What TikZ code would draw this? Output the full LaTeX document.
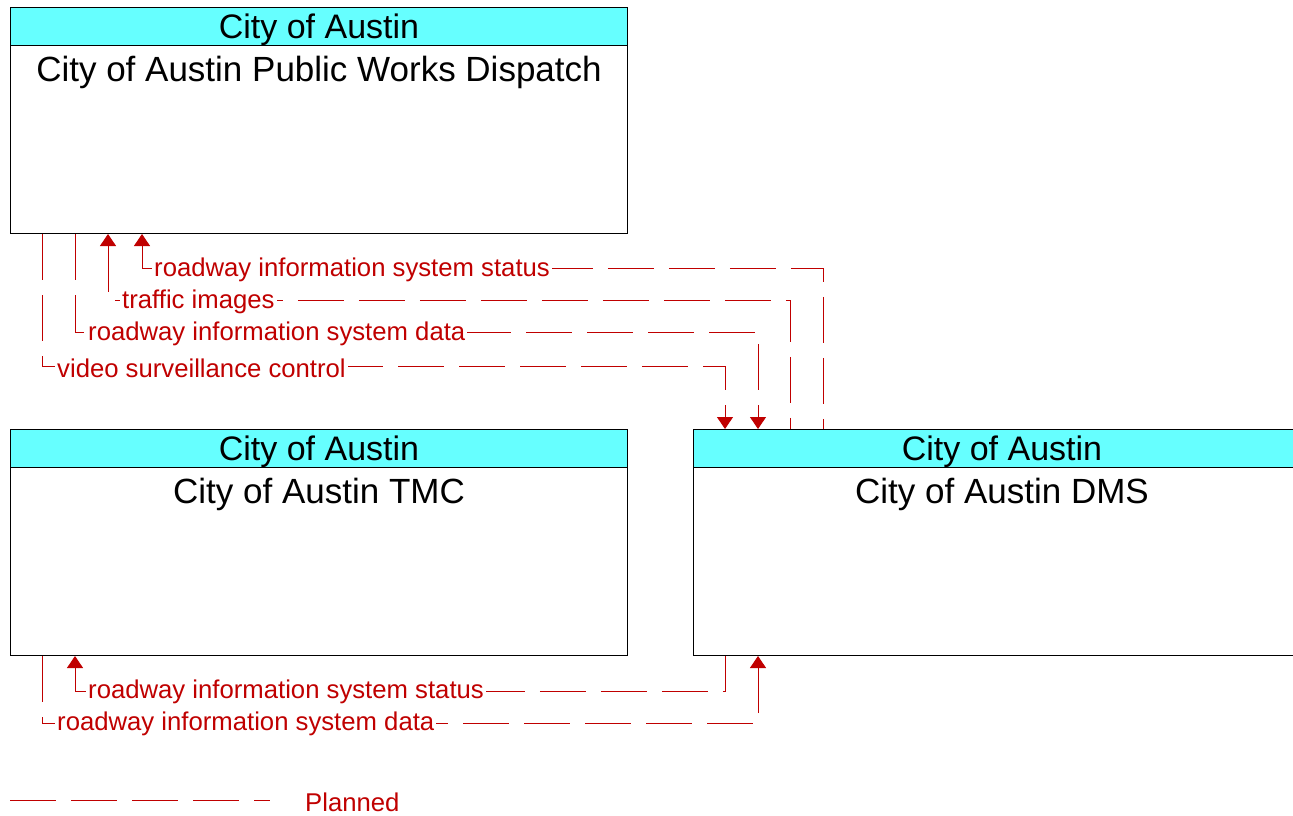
\documentclass[tikz,border=0pt]{standalone}
\usepackage{fontspec}
\setmainfont{Liberation Sans}
\usetikzlibrary{arrows.meta,calc,positioning}
\definecolor{flowred}{RGB}{192,0,0}
\definecolor{hdrcyan}{RGB}{102,255,255}
\tikzset{
    mybox/.style={draw=black,line width=1pt,fill=white,minimum width=617pt,minimum height=226pt,inner sep=0pt,anchor=north west},
    myhead/.style={draw=black,line width=1pt,fill=hdrcyan,minimum width=617pt,minimum height=38pt,inner sep=0pt,text depth=0pt,anchor=north,font=\fontsize{34}{40}\selectfont},
    myname/.style={inner sep=0pt,font=\fontsize{35}{40}\selectfont},
    myflow/.style={draw=flowred,line width=1pt,dash pattern=on 46pt off 15pt},
    mytip/.style={-{Triangle[width=16pt,length=12pt]}},
    mytipin/.style={{Triangle[width=16pt,length=12pt]}-},
    mylabel/.style={fill=white,text=flowred,inner sep=2pt,anchor=west,font=\fontsize{25.7}{30}\selectfont}
}

\begin{document}
\begin{tikzpicture}[x=1pt,y=-1pt]
  \useasboundingbox (0,0) rectangle (1293,816);

  % boxes
  \node[mybox] (pwd) at (10,7) {};
  \node[myhead] (pwdh) at (pwd.north) {City of Austin};
  \node[myname,below=10pt of pwdh.south] (pwdn) {City of Austin Public Works Dispatch};

  \node[mybox] (tmc) at (10,429) {};
  \node[myhead] (tmch) at (tmc.north) {City of Austin};
  \node[myname,below=10pt of tmch.south] (tmcn) {City of Austin TMC};

  \node[mybox] (dms) at (693,429) {};
  \node[myhead] (dmsh) at (dms.north) {City of Austin};
  \node[myname,below=10pt of dmsh.south] (dmsn) {City of Austin DMS};

  % flows between dispatch and DMS
  \draw[myflow,mytipin] ($(pwd.south west)+(132,0)$) |- ($(dms.north west)+(130,-161)$) -- ($(dms.north west)+(130,0)$);
  \draw[myflow,mytipin] ($(pwd.south west)+(98,0)$) |- ($(dms.north west)+(97,-129)$) -- ($(dms.north west)+(97,0)$);
  \draw[myflow,mytip] ($(pwd.south west)+(65,0)$) |- ($(dms.north west)+(65,-97)$) -- ($(dms.north west)+(65,0)$);
  \draw[myflow,mytip] ($(pwd.south west)+(32,0)$) |- ($(dms.north west)+(32,-63)$) -- ($(dms.north west)+(32,0)$);

  \node[mylabel] (l1) at ($(pwd.south west)+(142,36)$) {roadway information system status};
  \node[mylabel] (l2) at ($(pwd.south west)+(110,68)$) {traffic images};
  \node[mylabel] (l3) at ($(pwd.south west)+(76,100)$) {roadway information system data};
  \node[mylabel] (l4) at ($(pwd.south west)+(45,134)$) {video surveillance control};

  % flows between TMC and DMS
  \draw[myflow,mytipin] ($(tmc.south west)+(65,0)$) |- ($(dms.south west)+(32,35)$) -- ($(dms.south west)+(32,0)$);
  \draw[myflow,mytip] ($(tmc.south west)+(32,0)$) |- ($(dms.south west)+(65,67)$) -- ($(dms.south west)+(65,0)$);

  \node[mylabel] (l5) at ($(tmc.south west)+(76,36)$) {roadway information system status};
  \node[mylabel] (l6) at ($(tmc.south west)+(45,68)$) {roadway information system data};

  % legend
  \coordinate (lega) at (10,800);
  \coordinate (legb) at (270,800);
  \draw[myflow] (lega) -- (legb);
  \node[mylabel,fill=none,inner sep=0pt] (plan) at (305,802) {Planned};
\end{tikzpicture}
\end{document}
